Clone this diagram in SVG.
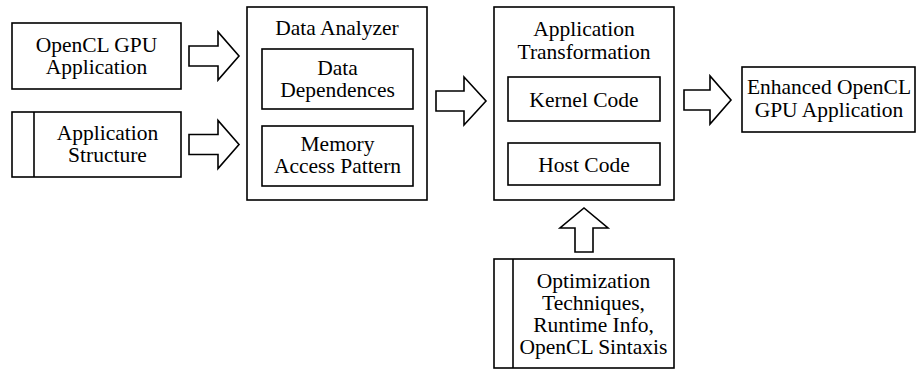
<svg xmlns="http://www.w3.org/2000/svg" width="917" height="370" viewBox="0 0 917 370">
  <style>
    .box { fill: #fff; stroke: #000; stroke-width: 1.6; }
    .bar { stroke: #000; stroke-width: 1.6; }
    .arrow { fill: #fff; stroke: #000; stroke-width: 1.6; stroke-linejoin: miter; }
  </style>
  <rect width="917" height="370" fill="#fff"/>

  <g font-family="'Liberation Serif', serif" font-size="21.5" text-anchor="middle" fill="#000">
    <g id="opencl-gpu-application">
      <rect class="box" x="12" y="23" width="169" height="66"/>
      <text x="96.5" y="51.5">OpenCL GPU</text>
      <text x="96.5" y="73.5">Application</text>
    </g>

    <g id="application-structure">
      <rect class="box" x="12" y="112" width="169" height="65"/>
      <line class="bar" x1="34" y1="112" x2="34" y2="177"/>
      <text x="107.5" y="140">Application</text>
      <text x="107.5" y="162">Structure</text>
    </g>

    <g id="data-analyzer">
      <rect class="box" x="247" y="7" width="180" height="193"/>
      <text x="337" y="34.5">Data Analyzer</text>
      <g id="data-dependences">
        <rect class="box" x="262" y="49" width="151" height="60"/>
        <text x="337.5" y="75">Data</text>
        <text x="337.5" y="97">Dependences</text>
      </g>
      <g id="memory-access-pattern">
        <rect class="box" x="262" y="126" width="151" height="60"/>
        <text x="337.5" y="150.5">Memory</text>
        <text x="337.5" y="172.5">Access Pattern</text>
      </g>
    </g>

    <g id="application-transformation">
      <rect class="box" x="494" y="7" width="180" height="193"/>
      <text x="584" y="36">Application</text>
      <text x="584" y="58.5">Transformation</text>
      <g id="kernel-code">
        <rect class="box" x="508" y="77" width="152" height="44"/>
        <text x="584" y="106.5">Kernel Code</text>
      </g>
      <g id="host-code">
        <rect class="box" x="508" y="143" width="152" height="42"/>
        <text x="584" y="171.5">Host Code</text>
      </g>
    </g>

    <g id="enhanced-opencl-gpu-application">
      <rect class="box" x="742" y="67" width="173" height="65"/>
      <text x="829" y="94">Enhanced OpenCL</text>
      <text x="829" y="117">GPU Application</text>
    </g>

    <g id="optimization-inputs">
      <rect class="box" x="494" y="259" width="180" height="109"/>
      <line class="bar" x1="513" y1="259" x2="513" y2="368"/>
      <text x="593.5" y="287.5">Optimization</text>
      <text x="593.5" y="309.5">Techniques,</text>
      <text x="593.5" y="331.5">Runtime Info,</text>
      <text x="593.5" y="353.5">OpenCL Sintaxis</text>
    </g>
  </g>

  <g id="connectors">
    <polygon class="arrow" points="189,46 218,46 218,32 239,56 218,80 218,66 189,66"/>
    <polygon class="arrow" points="189,134.5 218,134.5 218,120.5 239,144.5 218,168.5 218,154.5 189,154.5"/>
    <polygon class="arrow" points="436,91 464,91 464,77 486,101 464,125 464,111 436,111"/>
    <polygon class="arrow" points="684,90 710,90 710,76 731,100 710,124 710,110 684,110"/>
    <polygon class="arrow" points="575,252 575,228 560,228 584,208 608,228 593,228 593,252"/>
  </g>
</svg>
